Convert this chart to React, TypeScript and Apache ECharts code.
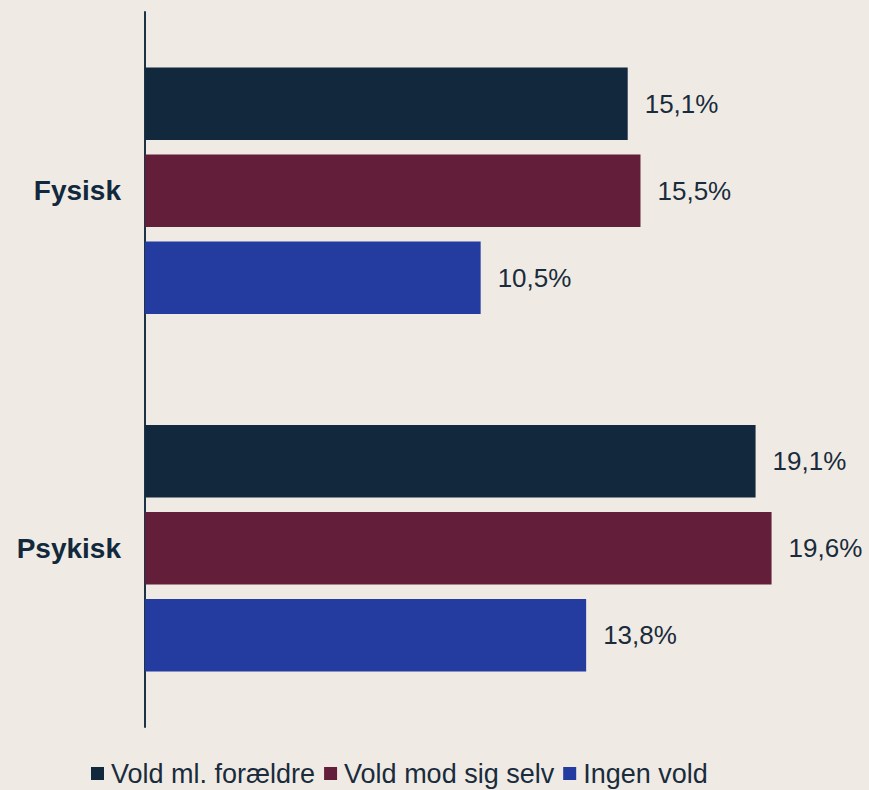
import React, { useEffect, useRef } from "react";
import * as echarts from "echarts";

const categories = ["Fysisk", "Psykisk"];
const seriesNames = ["Vold ml. forældre", "Vold mod sig selv", "Ingen vold"];
const voldForaeldre = [15.1, 19.1];
const voldSelv = [15.5, 19.6];
const ingenVold = [10.5, 13.8];
const colors = ["#12293d", "#631e3a", "#243ba0"];

export default function App() {
  const ref = useRef<HTMLDivElement>(null);
  useEffect(() => {
    const chart = echarts.init(ref.current!, null, { renderer: "svg" });
    const data = [voldForaeldre, voldSelv, ingenVold];
    chart.setOption({
      animation: false,
      backgroundColor: "#efebe4",
      textStyle: { fontFamily: "Liberation Sans, Arial, sans-serif" },
      grid: { left: 145, right: 22, top: 12, bottom: 63, containLabel: false },
      xAxis: {
        type: "value",
        min: 0,
        max: 21.96,
        show: false,
      },
      yAxis: {
        type: "category",
        data: categories,
        inverse: true,
        axisLine: { show: true, lineStyle: { color: "#1f3347", width: 2 } },
        axisTick: { show: false },
        axisLabel: {
          color: "#12293d",
          fontSize: 28,
          fontWeight: "bold",
          margin: 24,
          fontFamily: "Liberation Sans, Arial, sans-serif",
        },
      },
      legend: {
        bottom: -2,
        left: 86,
        icon: "rect",
        itemWidth: 13,
        itemHeight: 13,
        itemGap: 9,
        textStyle: {
          color: "#1a2b3c",
          fontSize: 27,
          padding: [0, 0, 0, 2],
          fontFamily: "Liberation Sans, Arial, sans-serif",
        },
        data: seriesNames,
      },
      series: seriesNames.map((name, i) => ({
        name,
        type: "bar",
        data: data[i],
        barGap: "20%",
        barCategoryGap: "31%",
        itemStyle: { color: colors[i] },
        label: {
          show: true,
          position: "right",
          distance: 17,
          color: "#1a2b3c",
          fontSize: 26,
          fontFamily: "Liberation Sans, Arial, sans-serif",
          formatter: (p: any) => p.value.toFixed(1).replace(".", ",") + "%",
        },
      })),
    });
    return () => chart.dispose();
  }, []);
  return <div ref={ref} style={{ width: 869, height: 790, position: "absolute", left: 0, top: 0 }} />;
}
